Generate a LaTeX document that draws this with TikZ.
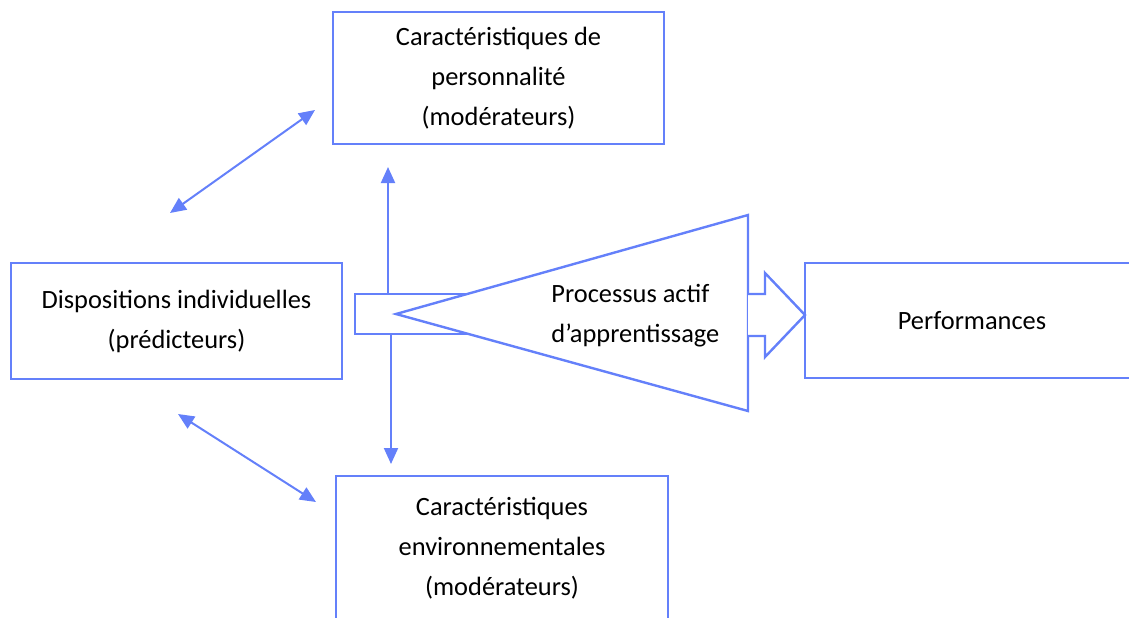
\documentclass[tikz,border=0pt]{standalone}
\usepackage{fontspec}
\setmainfont{Carlito}
\usepackage{xcolor}
\usetikzlibrary{arrows.meta}

\definecolor{boxblue}{RGB}{100,128,250}

\begin{document}
\begin{tikzpicture}[x=0.5pt, y=-0.5pt,
    box/.style={draw=boxblue, line width=1.2pt, align=center, inner sep=0pt,
        font=\fontsize{13.2}{20}\selectfont},
    link/.style={draw=boxblue, line width=1pt, -{Triangle[length=8pt, width=7pt]}},
    twolink/.style={link, {Triangle[length=8pt, width=7pt]}-{Triangle[length=8pt, width=7pt]}},
    pipe/.style={draw=boxblue, line width=1.2pt, fill=white}]

    % Page frame
    \useasboundingbox (0, 0) rectangle (1129, 617);
    \clip (0, 0) rectangle (1129, 617);

    % Boxes
    \node[box, minimum width=165.5pt, minimum height=66pt] (pers) at (498.5, 78)
        {Caractéristiques de\\personnalité\\(modérateurs)};

    \node[box, minimum width=165.5pt, minimum height=58pt] (disp) at (176.5, 321)
        {Dispositions individuelles\\(prédicteurs)};

    \node[box, minimum width=166pt, minimum height=72pt] (env) at (502, 548)
        {Caractéristiques\\environnementales\\(modérateurs)};

    \node[box, minimum width=167pt, minimum height=57.5pt] (perf) at (972, 320.5)
        {Performances};

    % Funnel in the middle
    \coordinate (barNW) at (355, 294);
    \coordinate (barSE) at (748, 334);

    \draw[pipe] (barNW) rectangle (barSE);

    \coordinate (tip) at (396, 314);
    \coordinate (triTop) at (748, 215);
    \coordinate (triBot) at (748, 411);

    \filldraw[pipe] (tip) -- (triTop) -- (triBot) -- cycle;

    \node[align=left, inner sep=0pt, anchor=west, font=\fontsize{13.2}{20}\selectfont]
        (proc) at (551, 316) {Processus actif\\d’apprentissage};

    % Outlet arrow
    \coordinate (outTip) at (805, 315);

    \draw[pipe] (748, 294) -- (765, 294) -- (765, 273) -- (outTip)
        -- (765, 357) -- (765, 336) -- (748, 336);

    % Arrows to the moderators
    \coordinate (upStart) at (388, 294);
    \coordinate (upEnd) at (388, 167);

    \coordinate (downStart) at (391, 334);
    \coordinate (downEnd) at (391, 464);

    \draw[link] (upStart) -- (upEnd);
    \draw[link] (downStart) -- (downEnd);

    \coordinate (d1) at (170, 213);
    \coordinate (p1) at (315, 110);

    \coordinate (d2) at (178, 414);
    \coordinate (e2) at (316, 502);

    \draw[twolink] (d1) -- (p1);
    \draw[twolink] (d2) -- (e2);

\end{tikzpicture}
\end{document}
